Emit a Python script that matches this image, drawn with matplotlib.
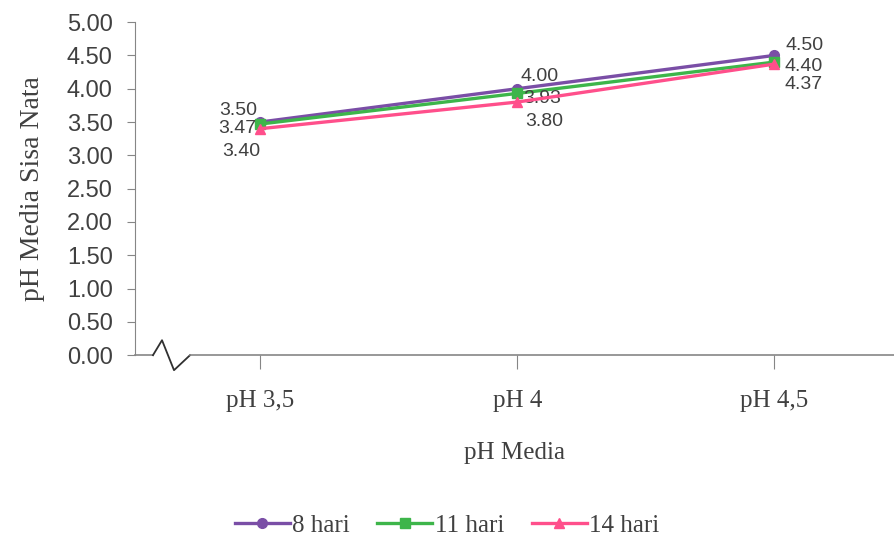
import matplotlib.pyplot as plt
import numpy as np

categories = ['pH 3,5', 'pH 4', 'pH 4,5']
series_names = ['8 hari', '11 hari', '14 hari']
hari_8 = [3.50, 4.00, 4.50]
hari_11 = [3.47, 3.93, 4.40]
hari_14 = [3.40, 3.80, 4.37]
y_ticks = np.arange(0, 5.01, 0.5)

colors = ['#7a4ea6', '#3db54a', '#ff4f8b']
markers = ['o', 's', '^']
# label offsets in points, [series][category]
label_dx = [[-2, 2, 8], [-3, 4, 7], [0, 6, 7]]
label_dy = [[8.5, 9, 7], [-3, -3.5, -3.5], [-16.5, -14, -15]]

serif = 'Liberation Serif'
sans = 'Liberation Sans'
text_col = '#404040'
axis_col = '#868686'

fig = plt.figure(figsize=(8.94, 5.39), dpi=100)
ax = fig.add_axes([0.151, 0.341, 0.849, 0.618])

x = np.arange(len(categories))
for k, (vals, name, c, m) in enumerate(zip([hari_8, hari_11, hari_14], series_names, colors, markers)):
    ax.plot(x, vals, color=c, lw=2.4, marker=m, markersize=7, label=name, zorder=3)
    for i, v in enumerate(vals):
        ha = 'right' if i == 0 else 'left'
        ax.annotate(f'{v:.2f}', (x[i], v), xytext=(label_dx[k][i], label_dy[k][i]),
                    textcoords='offset points', ha=ha, va='center', fontsize=14,
                    family=sans, color=text_col)

ax.set_xlim(-0.487, 2.465)
ax.set_ylim(0, 5)
ax.set_yticks(y_ticks)
ax.set_yticklabels([f'{t:.2f}' for t in y_ticks], family=sans, fontsize=17, color=text_col)
ax.set_xticks(x)
ax.set_xticklabels(categories, family=serif, fontsize=18, color=text_col)
ax.tick_params(axis='y', length=6, color=axis_col, pad=10)
ax.tick_params(axis='x', length=10, color=axis_col, pad=15)

for s in ['top', 'right']:
    ax.spines[s].set_visible(False)
ax.spines['left'].set_color(axis_col)
ax.spines['bottom'].set_visible(False)

# bottom axis with a break mark near the origin
ax.plot([0, 0.0237], [0, 0], transform=ax.transAxes, color=axis_col, lw=1.2, clip_on=False)
ax.plot([0.0237, 0.0356, 0.0514, 0.0725], [0, 0.045, -0.045, 0], transform=ax.transAxes,
        color='#303030', lw=1.3, clip_on=False)
ax.plot([0.0725, 1], [0, 0], transform=ax.transAxes, color=axis_col, lw=1.2, clip_on=False)

ax.set_xlabel('pH Media', family=serif, fontsize=18, color=text_col, labelpad=22)
ax.set_ylabel('pH Media Sisa Nata', family=serif, fontsize=20, color=text_col, labelpad=16)

fig.legend(loc='lower center', bbox_to_anchor=(0.5, -0.038), ncol=3, frameon=False,
           prop={'family': serif, 'size': 18}, handlelength=2.2, handletextpad=0.1,
           columnspacing=1.1, labelcolor=text_col)

fig.savefig('out.png', dpi=100)
